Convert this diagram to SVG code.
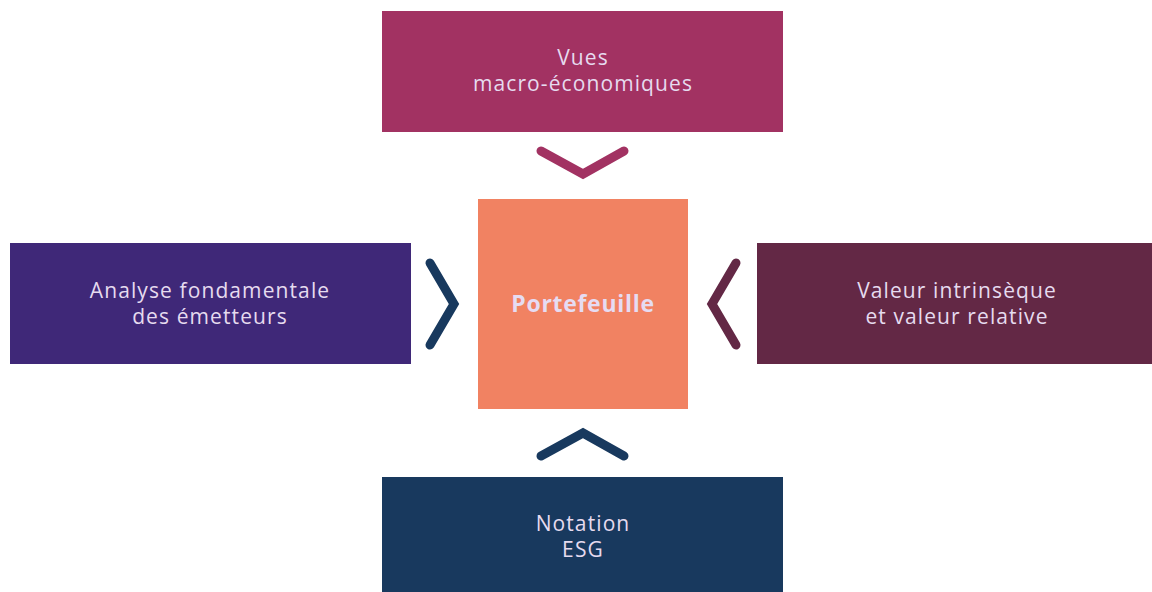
<svg xmlns="http://www.w3.org/2000/svg" width="1152" height="592" viewBox="0 0 1152 592">
<style>
.lbl{font-family:"Open Sans","Liberation Sans",sans-serif;font-size:21px;fill:#e6dbef;text-anchor:middle;letter-spacing:1.1px}
.main{font-family:"Open Sans","Liberation Sans",sans-serif;font-size:23px;font-weight:bold;fill:#e6dcf2;text-anchor:middle;letter-spacing:0.7px}
.chev{fill:none;stroke-width:9;stroke-linecap:round;stroke-linejoin:miter}
</style>
<rect width="1152" height="592" fill="#ffffff"/>
<g id="macro">
<rect x="382" y="11" width="401" height="121" fill="#a23262"/>
<text class="lbl" x="583" y="65">Vues</text>
<text class="lbl" x="583" y="91">macro-économiques</text>
</g>
<g id="analyse">
<rect x="10" y="243" width="401" height="121" fill="#3f2878"/>
<text class="lbl" x="210" y="298">Analyse fondamentale</text>
<text class="lbl" x="210" y="324">des émetteurs</text>
</g>
<g id="portefeuille">
<rect x="478" y="199" width="210" height="210" fill="#f18262"/>
<text class="main" x="583" y="312">Portefeuille</text>
</g>
<g id="valeur">
<rect x="757" y="243" width="395" height="121" fill="#632845"/>
<text class="lbl" x="957" y="298">Valeur intrinsèque</text>
<text class="lbl" x="957" y="324">et valeur relative</text>
</g>
<g id="esg">
<rect x="382" y="477" width="401" height="115" fill="#18395e"/>
<text class="lbl" x="583" y="531">Notation</text>
<text class="lbl" x="583" y="557">ESG</text>
</g>
<g id="connectors">
<polyline class="chev" points="541,151 583,174 624,151" stroke="#a23262"/>
<polyline class="chev" points="430,263 454,304 430,345" stroke="#18395e"/>
<polyline class="chev" points="736,263 712,304 736,345" stroke="#632845"/>
<polyline class="chev" points="541,456 583,433 624,456" stroke="#18395e"/>
</g>
</svg>
